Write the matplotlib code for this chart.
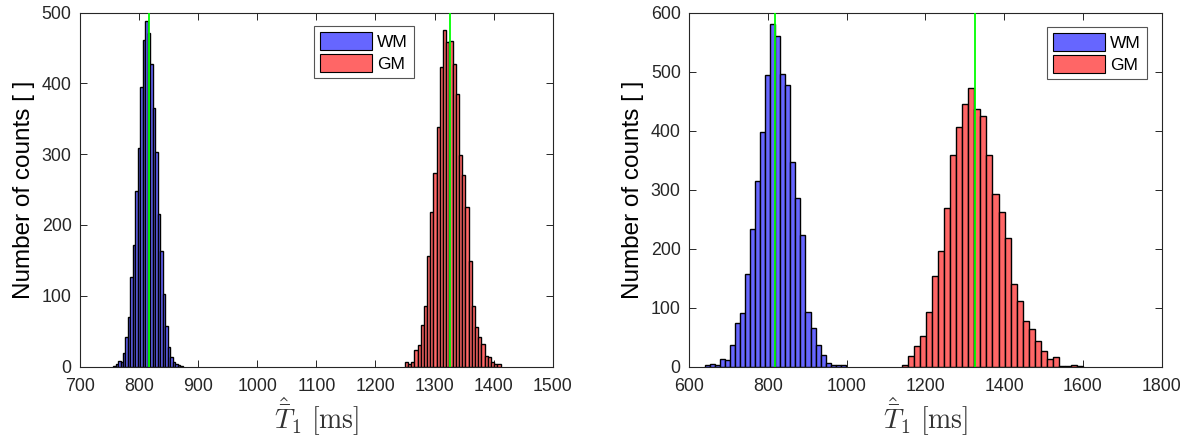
import numpy as np
import matplotlib
matplotlib.use("Agg")
import matplotlib.pyplot as plt
from matplotlib.patches import Patch

plt.rcParams['font.family'] = ['Liberation Sans', 'DejaVu Sans']
plt.rcParams['mathtext.fontset'] = 'cm'

# ---- data ----
# Left panel: WM histogram
left_wm_start = 756.0
left_wm_width = 4.2
left_wm_counts = [1, 4, 8, 7, 19, 42, 70, 126, 172, 248, 309, 395, 461, 488,
                  472, 428, 366, 303, 215, 163, 103, 57, 28, 14, 7, 4, 2, 1]
# Left panel: GM histogram
left_gm_start = 1249.6
left_gm_width = 5.41
left_gm_counts = [6, 4, 7, 23, 31, 58, 86, 156, 218, 273, 339, 423, 475, 459,
                  460, 428, 385, 299, 270, 225, 149, 86, 56, 42, 32, 15, 13, 7, 4, 4]
# Right panel: WM histogram
right_wm_start = 640.6
right_wm_width = 12.75
right_wm_counts = [3, 4, 2, 12, 11, 36, 73, 90, 157, 233, 315, 397, 494, 581,
                   560, 496, 477, 346, 285, 223, 92, 65, 37, 20, 6, 2, 2, 2]
# Right panel: GM histogram
right_gm_start = 1139.8
right_gm_width = 15.37
right_gm_counts = [3, 17, 35, 52, 93, 154, 196, 269, 359, 407, 446, 473, 437, 424,
                   358, 292, 262, 218, 140, 111, 77, 63, 44, 27, 12, 16, 1, 1, 2, 1]

true_wm = 817.0
true_gm = 1326.0

left_xticks = [700, 800, 900, 1000, 1100, 1200, 1300, 1400, 1500]
left_yticks = [0, 100, 200, 300, 400, 500]
right_xticks = [600, 800, 1000, 1200, 1400, 1600, 1800]
right_yticks = [0, 100, 200, 300, 400, 500, 600]

labels = ['WM', 'GM']
wm_color = '#6666FF'
gm_color = '#FF6666'
axis_gray = '#262626'

fig = plt.figure(figsize=(11.87, 4.38), dpi=100)
axL = fig.add_axes([0.0674, 0.1632, 0.3982, 0.8078])
axR = fig.add_axes([0.5805, 0.1632, 0.3982, 0.8078])


def draw_hist(ax, start, width, counts, color):
    counts = np.asarray(counts, dtype=float)
    lefts = start + width * np.arange(len(counts))
    ax.bar(lefts, counts, width=width, align='edge', color=color,
           edgecolor='black', linewidth=1.0, zorder=2)


def style(ax, xlim, ylim, xticks, yticks, leg_anchor):
    ax.set_xlim(*xlim)
    ax.set_ylim(*ylim)
    ax.set_xticks(xticks)
    ax.set_yticks(yticks)
    ax.tick_params(direction='in', length=5, width=0.7, top=True, right=True,
                   labelsize=12.8, colors=axis_gray)
    ax.tick_params(axis='x', pad=8)
    ax.tick_params(axis='y', pad=6)
    for s in ax.spines.values():
        s.set_color(axis_gray)
        s.set_linewidth(0.8)
    ax.set_ylabel('Number of counts [ ]', fontsize=17.5, color='black', labelpad=5)
    ax.set_xlabel(r'$\hat{\bar{T}}_1\ [\mathrm{ms}]$', fontsize=20, color='#333333', labelpad=1)
    handles = [Patch(facecolor=wm_color, edgecolor='black', linewidth=0.8),
               Patch(facecolor=gm_color, edgecolor='black', linewidth=0.8)]
    leg = ax.legend(handles, labels, loc='upper right', bbox_to_anchor=leg_anchor,
                    borderaxespad=0, fontsize=12.5, handlelength=3.0, handleheight=1.2,
                    handletextpad=0.3, labelspacing=0.25, borderpad=0.35,
                    fancybox=False, framealpha=1, edgecolor='#555555')
    leg.get_frame().set_linewidth(0.8)


draw_hist(axL, left_wm_start, left_wm_width, left_wm_counts, wm_color)
draw_hist(axL, left_gm_start, left_gm_width, left_gm_counts, gm_color)
axL.axvline(true_wm, color='#00FF00', linewidth=1.3, zorder=3)
axL.axvline(true_gm, color='#00FF00', linewidth=1.3, zorder=3)
style(axL, (700, 1500), (0, 500), left_xticks, left_yticks, (0.7066, 0.9624))

draw_hist(axR, right_wm_start, right_wm_width, right_wm_counts, wm_color)
draw_hist(axR, right_gm_start, right_gm_width, right_gm_counts, gm_color)
axR.axvline(true_wm, color='#00FF00', linewidth=1.3, zorder=3)
axR.axvline(true_gm, color='#00FF00', linewidth=1.3, zorder=3)
style(axR, (600, 1800), (0, 600), right_xticks, right_yticks, (0.969, 0.96))

fig.savefig('out.png', dpi=100)
